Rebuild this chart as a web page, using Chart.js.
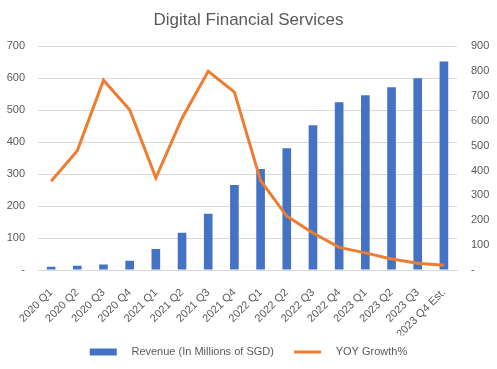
<!DOCTYPE html>
<html>
<head>
<meta charset="utf-8">
<script src="https://cdn.jsdelivr.net/npm/chart.js@4"></script>
<style>
  html, body { margin: 0; padding: 0; background: #fff; }
  #wrap { width: 497px; height: 369px; }
</style>
</head>
<body>
<div id="wrap"><canvas id="chart" width="497" height="369"></canvas></div>
<script>
const quarters = ["2020 Q1", "2020 Q2", "2020 Q3", "2020 Q4", "2021 Q1", "2021 Q2", "2021 Q3", "2021 Q4",
  "2022 Q1", "2022 Q2", "2022 Q3", "2022 Q4", "2023 Q1", "2023 Q2", "2023 Q3", "2023 Q4 Est."];
const revenue = [10, 13, 17, 29, 66, 117, 176, 266, 316, 381, 453, 525, 547, 572, 600, 653];
const yoyGrowth = [357, 480, 764, 645, 371, 611, 800, 716, 360, 217, 149, 91, 69, 44, 27, 19];

const gray = "#595959";
const family = "'Liberation Sans', Arial, sans-serif";
const font = { family: family, size: 11 };

const dashZero = (v) => (v === 0 ? "-" : v);

// legend text gets padded with spaces so the box/text gaps look like Excel's
const legendText = ["   Revenue (In Millions of SGD)   ", "   YOY Growth%"];

new Chart(document.getElementById("chart"), {
  type: "bar",
  data: {
    labels: quarters,
    datasets: [
      {
        label: "Revenue (In Millions of SGD)",
        data: revenue,
        backgroundColor: "#4472C4",
        borderColor: "#4472C4",
        yAxisID: "y",
        order: 1,
        barPercentage: 0.66,
        categoryPercentage: 0.5,
      },
      {
        type: "line",
        label: "YOY Growth%",
        data: yoyGrowth,
        borderColor: "#ED7D31",
        backgroundColor: "#ED7D31",
        borderWidth: 3,
        pointRadius: 0,
        tension: 0,
        yAxisID: "y1",
        order: 0,
      },
    ],
  },
  options: {
    responsive: false,
    animation: false,
    layout: { padding: { left: 0, right: 0, top: 0, bottom: 1.5 } },
    plugins: {
      title: {
        display: true,
        text: "Digital Financial Services",
        color: gray,
        font: { family: family, size: 17, weight: "normal" },
        padding: { top: 10, bottom: 16 },
      },
      legend: {
        position: "bottom",
        labels: {
          color: gray,
          font: font,
          usePointStyle: true,
          pointStyleWidth: 27,
          boxHeight: 7,
          padding: 11,
          generateLabels: (chart) =>
            chart.data.datasets.map((ds, i) => ({
              text: legendText[i],
              fillStyle: ds.backgroundColor,
              strokeStyle: ds.borderColor,
              lineWidth: i === 0 ? 0 : 3,
              pointStyle: i === 0 ? "rect" : "line",
              fontColor: gray,
              hidden: false,
              datasetIndex: i,
            })),
        },
      },
      tooltip: { enabled: false },
    },
    scales: {
      x: {
        afterFit: (scale) => { scale.height = 65.5; },
        grid: { display: false, drawTicks: false },
        border: { color: "#d9d9d9" },
        ticks: { color: gray, font: font, minRotation: 45, maxRotation: 45, padding: 16 },
      },
      y: {
        position: "left",
        min: 0,
        max: 700,
        afterFit: (scale) => { scale.width = 38; },
        grid: { color: "#d9d9d9", drawTicks: false },
        border: { display: false },
        ticks: { stepSize: 100, color: gray, font: font, padding: 13, callback: dashZero },
      },
      y1: {
        position: "right",
        min: 0,
        max: 900,
        afterFit: (scale) => { scale.width = 40; },
        grid: { display: false, drawTicks: false },
        border: { display: false },
        ticks: { stepSize: 100, color: gray, font: font, padding: 14, callback: dashZero },
      },
    },
  },
});
</script>
</body>
</html>
